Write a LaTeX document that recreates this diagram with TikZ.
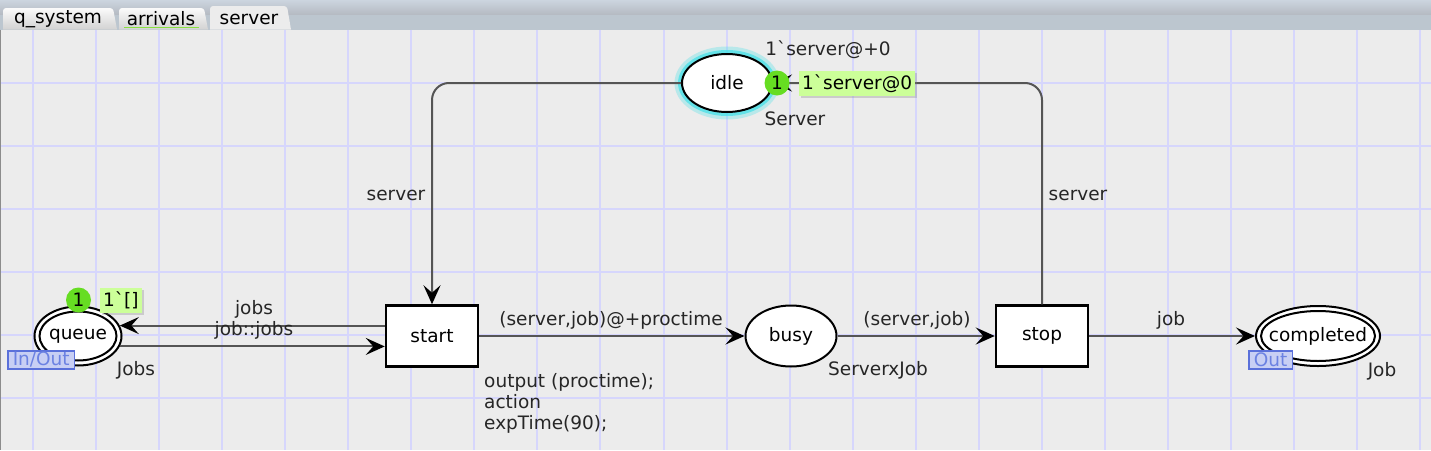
\documentclass[tikz,border=0pt]{standalone}
\usepackage{fontspec}
\newfontfamily\cpn{DejaVu Sans}
\usetikzlibrary{arrows.meta,shapes.geometric,shadows}
\definecolor{bg}{HTML}{ECECEC}
\definecolor{gridc}{HTML}{D6D6FC}
\definecolor{arcc}{HTML}{555555}
\definecolor{tokg}{HTML}{66DD22}
\definecolor{markg}{HTML}{CCFF99}
\definecolor{portfill}{HTML}{C8CFF4}
\definecolor{portc}{HTML}{5A70DA}
\definecolor{porttext}{HTML}{6C82E2}
\definecolor{glow}{HTML}{40E0E8}
\definecolor{tabtop}{HTML}{CCD5DF}
\definecolor{tabbot}{HTML}{B4B9C1}
\definecolor{tabbar}{HTML}{BCC6CF}
\definecolor{tabgrey}{HTML}{D2D2D2}
\definecolor{tabline}{HTML}{88E040}
\newcommand\cpnbq{\char96\relax}
\tikzset{
  place/.style={ellipse, draw=black, line width=2pt, fill=white, inner sep=0pt},
  trans/.style={rectangle, draw=black, line width=2.5pt, fill=white, minimum width=92pt, minimum height=61pt, inner sep=0pt},
  arc/.style={draw=arcc, line width=2pt, -{Stealth[length=19pt,width=17pt,inset=7.5pt,color=black]}},
  lbl/.style={text=black!85, inner sep=0pt},
  token/.style={circle, fill=tokg, minimum size=25pt, inner sep=0pt},
  markbox/.style={fill=markg, inner sep=3pt, minimum height=25pt, drop shadow={shadow xshift=2pt, shadow yshift=-2pt, opacity=0.3}},
  port/.style={draw=portc, fill=portfill, text=porttext, line width=1.5pt, inner xsep=5pt, inner ysep=0pt, minimum height=18pt},
  tabtext/.style={text=black, inner sep=0pt}
}
\begin{document}
\begin{tikzpicture}[x=1pt,y=-1pt,font=\cpn\fontsize{18.5pt}{20pt}\selectfont]
\useasboundingbox (0,0) rectangle (1431,450);
% background
\fill[bg] (0,0) rectangle (1431,450);
% header
\shade[top color=tabtop, bottom color=tabbot] (0,0) rectangle (1431,15);
\fill[tabbar] (0,15) rectangle (1431,29.5);
% tabs
\shade[top color=white!90!tabgrey, bottom color=tabgrey, rounded corners=3pt] (3,29.5) -- (3,8) -- (113,8) [sharp corners] -- (117,29.5) -- cycle;
\shade[top color=white!90!tabgrey, bottom color=tabgrey, rounded corners=3pt] (119,29.5) -- (119,8) -- (204,8) [sharp corners] -- (208,29.5) -- cycle;
\fill[bg, rounded corners=3pt] (210,29.5) -- (210,6) -- (287,6) [sharp corners] -- (291,29.5) -- cycle;
\node[tabtext] (tab1) at (58,19) {q\_system};
\node[tabtext] (tab2) at (161,19) {arrivals};
\node[tabtext] (tab3) at (249,19) {server};
\draw[tabline, line width=1.5pt] (124,27.5) -- (199,27.5);
% grid
\foreach \i in {0,...,22} {
  \pgfmathsetmacro\gx{round(33+63.05*\i)}
  \draw[gridc, line width=2pt] (\gx,29.5) -- (\gx,450);
}
\foreach \j in {0,...,5} \draw[gridc, line width=2pt] (0,83+63*\j) -- (1431,83+63*\j);
\draw[black!45, line width=1pt] (0.5,29.5) -- (0.5,450);
% glow
\draw[glow, line width=9pt, opacity=0.3] (727,83) ellipse (48 and 32);
\draw[glow, line width=5pt, opacity=0.7] (727,83) ellipse (46.5 and 30.5);
% places & transitions
\node[place, minimum width=90pt, minimum height=58pt] (idle) at (727,83) {idle};
\node[place, minimum width=91pt, minimum height=61pt] (busy) at (791,336) {busy};
\node[place, minimum width=87pt, minimum height=59pt] (queue) at (78,336) {};
\draw[line width=2pt] (queue.center) ellipse (38.5 and 24.5);
\node[inner sep=0pt] (queuetxt) at (78,336) {queue};
\node[place, minimum width=124pt, minimum height=60pt] (completed) at (1318,336) {};
\draw[line width=2pt] (completed.center) ellipse (57 and 25);
\node[inner sep=0pt] (comptxt) at (1318,336) {completed};
\node[trans] (start) at (432,336) {start};
\node[trans] (stop) at (1042,336) {stop};
% arcs
\draw[arc, rounded corners=17pt] (idle.west) -| (start.north);
\draw[arc, rounded corners=17pt] (stop.north) |- (idle.east);
\draw[arc] (start.west |- queue.14) -- (queue.14);
\draw[arc] (queue.-14) -- (start.west |- queue.-14);
\draw[arc] (start) -- (busy);
\draw[arc] (busy) -- (stop);
\draw[arc] (stop) -- (completed);
% arc labels
\node[lbl] (lsrv1) at (396,195) {server};
\node[lbl] (lsrv2) at (1078,195) {server};
\node[lbl] (ljobs) at (254,309) {jobs};
\node[lbl] (ljobjobs) at (254,330) {job::jobs};
\node[lbl] (lsj1) at (611,320) {(server,job)@+proctime};
\node[lbl] (lsj2) at (917,320) {(server,job)};
\node[lbl] (ljob) at (1171,320) {job};
% code segment
\node[lbl, anchor=base west] (code1) at (484,387.5) {output (proctime);};
\node[lbl, anchor=base west] (code2) at (484,408) {action};
\node[lbl, anchor=base west] (code3) at (484,429) {expTime(90);};
% place annotations
\node[lbl] (init) at (828,50) {1\cpnbq server@+0};
\node[lbl] (ctype1) at (795,119) {Server};
\node[lbl] (ctype2) at (136,370) {Jobs};
\node[lbl] (ctype3) at (878,370) {ServerxJob};
\node[lbl] (ctype4) at (1382,371) {Job};
% ports
\node[port, anchor=north west] (port1) at (7,350) {In/Out};
\node[port, anchor=north west] (port2) at (1248,350) {Out};
% tokens and markings
\node[token] (tok1) at (777,83) {1};
\node[markbox, anchor=west] (mark1) at (799,83.5) {1\cpnbq server@0};
\node[token] (tok2) at (78.5,300) {1};
\node[markbox, anchor=west] (mark2) at (100,300) {1\cpnbq[]};
\end{tikzpicture}
\end{document}
